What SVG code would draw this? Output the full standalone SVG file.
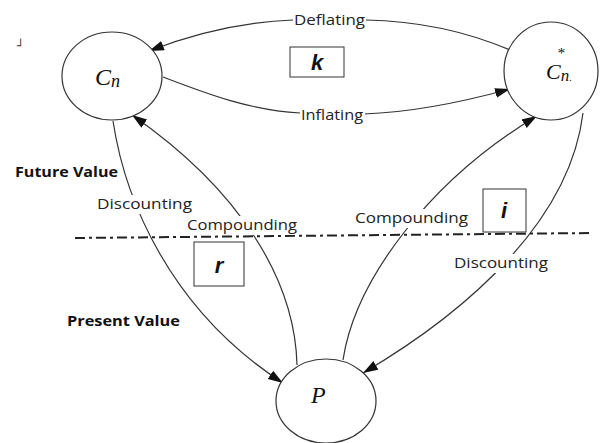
<svg xmlns="http://www.w3.org/2000/svg" width="601" height="443" viewBox="0 0 601 443">
<style>
.node{fill:#fff;stroke:#333;stroke-width:1.2}
.conn{fill:none;stroke:#333;stroke-width:1.2}
.lbl{font-family:"Open Sans",sans-serif;font-size:15px;fill:#222}
.bg{fill:#fff}
.side{font-family:"Open Sans",sans-serif;font-size:14px;font-weight:bold;fill:#111}
.math{font-family:"Liberation Serif",serif;font-style:italic;fill:#111}
.box{fill:#fff;stroke:#333;stroke-width:1}
.var{font-family:"Liberation Sans",Arial,sans-serif;font-weight:bold;font-style:italic;font-size:22px;fill:#111;text-anchor:middle}
</style>
<defs>
<marker id="ah" markerWidth="16" markerHeight="12" refX="15" refY="5" orient="auto" markerUnits="userSpaceOnUse">
<path d="M0,0 L15,5 L0,10 Z" fill="#111"/>
</marker>
</defs>
<rect width="601" height="443" fill="#fff"/>
<text x="17" y="50" font-family="DejaVu Sans,sans-serif" font-size="12" fill="#333">┘</text>
<g id="divider">
<line x1="75" y1="238" x2="592" y2="233" stroke="#222" stroke-width="2" stroke-dasharray="10,4,3,4"/>
</g>
<g id="connectors">
<path class="conn" d="M510,50 C470,33 420,21 366,20"/>
<path class="conn" d="M293,20 C240,22 190,35 149,51" marker-end="url(#ah)"/>
<path class="conn" d="M163,77 C210,95 250,110 300,113"/>
<path class="conn" d="M364,114 C420,112 470,100 510,89" marker-end="url(#ah)"/>
<path class="conn" d="M113,121 C125,200 170,310 283,383" marker-end="url(#ah)"/>
<path class="conn" d="M297,365 C295,280 240,190 132,115" marker-end="url(#ah)"/>
<path class="conn" d="M343,360 C355,280 430,180 537,116" marker-end="url(#ah)"/>
<path class="conn" d="M583,113 C570,220 470,310 363,373" marker-end="url(#ah)"/>
</g>
<g id="labels">
<rect class="bg" x="294" y="10" width="72" height="18"/>
<text class="lbl" x="294" y="25" textLength="71" lengthAdjust="spacingAndGlyphs">Deflating</text>
<rect class="bg" x="300" y="105" width="65" height="18"/>
<text class="lbl" x="301" y="120" textLength="62" lengthAdjust="spacingAndGlyphs">Inflating</text>
<rect class="bg" x="96" y="195" width="97" height="19"/>
<text class="lbl" x="97" y="209" textLength="95" lengthAdjust="spacingAndGlyphs">Discounting</text>
<rect class="bg" x="186" y="216" width="112" height="19"/>
<text class="lbl" x="187" y="230" textLength="110" lengthAdjust="spacingAndGlyphs">Compounding</text>
<rect class="bg" x="354" y="209" width="115" height="19"/>
<text class="lbl" x="355" y="223" textLength="113" lengthAdjust="spacingAndGlyphs">Compounding</text>
<rect class="bg" x="453" y="254" width="96" height="19"/>
<text class="lbl" x="454" y="268" textLength="94" lengthAdjust="spacingAndGlyphs">Discounting</text>
<text class="side" x="15" y="177" textLength="103" lengthAdjust="spacingAndGlyphs">Future Value</text>
<text class="side" x="67" y="326" textLength="113" lengthAdjust="spacingAndGlyphs">Present Value</text>
</g>
<g id="node-Cn">
<ellipse class="node" cx="112" cy="76" rx="50" ry="44"/>
<text class="math" x="95" y="85" font-size="24">C<tspan font-size="18" dy="2">n</tspan></text>
</g>
<g id="node-Cnstar">
<ellipse class="node" cx="551" cy="71" rx="47" ry="49"/>
<text class="math" x="557" y="58" font-size="15" font-style="normal">*</text>
<text class="math" x="546" y="79" font-size="22">C<tspan font-size="17" dy="2">n</tspan><tspan font-size="10" font-style="normal">.</tspan></text>
</g>
<g id="node-P">
<ellipse class="node" cx="326" cy="401" rx="50" ry="42"/>
<text class="math" x="311" y="403" font-size="24">P</text>
</g>
<g id="box-k">
<rect class="box" x="290" y="47" width="54" height="30"/>
<text class="var" x="317" y="70">k</text>
</g>
<g id="box-r">
<rect class="box" x="194" y="242" width="50" height="44"/>
<text class="var" x="219" y="273">r</text>
</g>
<g id="box-i">
<rect class="box" x="483" y="189" width="43" height="43"/>
<text class="var" x="504" y="218">i</text>
</g>
</svg>
